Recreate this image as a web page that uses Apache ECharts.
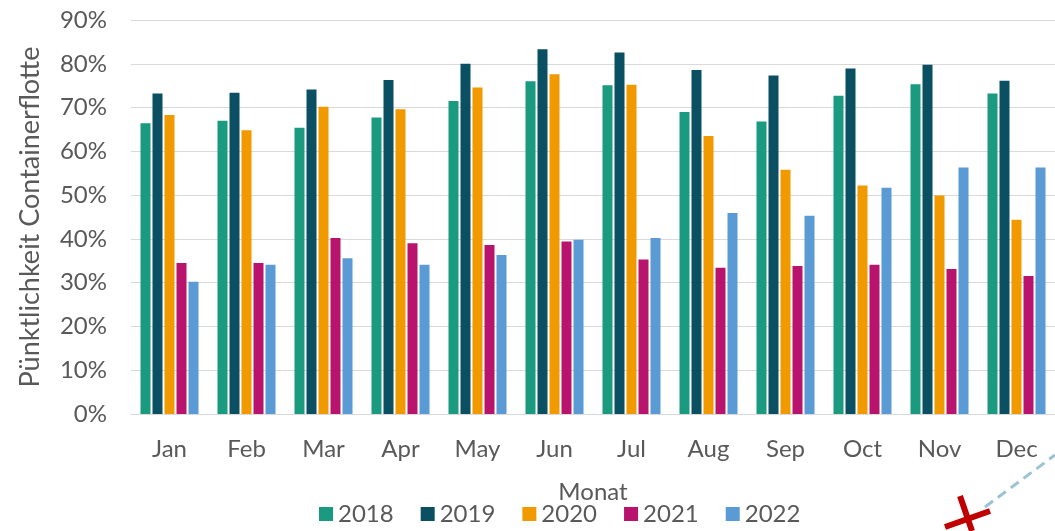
<!DOCTYPE html>
<html>
<head>
<meta charset="utf-8">
<script src="https://cdn.jsdelivr.net/npm/echarts@6/dist/echarts.min.js"></script>
<style>
    html, body { margin: 0; padding: 0; background: #fff; }
    #chart { width: 1055px; height: 531px; }
</style>
</head>
<body>
<div id="chart"></div>
<script>
const months = ["Jan", "Feb", "Mar", "Apr", "May", "Jun", "Jul", "Aug", "Sep", "Oct", "Nov", "Dec"];
const years = ["2018", "2019", "2020", "2021", "2022"];
const colors = ["#1a9a7e", "#0b4f63", "#f09a00", "#b8146e", "#5b9bd5"];

// Pünktlichkeit in %
const v2018 = [66.4, 67.0, 65.4, 67.7, 71.5, 76.0, 75.1, 69.0, 66.8, 72.7, 75.3, 73.2];
const v2019 = [73.2, 73.4, 74.1, 76.3, 80.0, 83.3, 82.6, 78.6, 77.3, 78.9, 79.8, 76.1];
const v2020 = [68.3, 64.8, 70.2, 69.6, 74.6, 77.6, 75.2, 63.5, 55.8, 52.2, 49.9, 44.4];
const v2021 = [34.5, 34.5, 40.2, 39.0, 38.6, 39.4, 35.3, 33.4, 33.8, 34.1, 33.1, 31.5];
const v2022 = [30.2, 34.1, 35.6, 34.1, 36.3, 39.8, 40.2, 45.9, 45.3, 51.7, 56.3, 56.3];
const values = [v2018, v2019, v2020, v2021, v2022];

const font = "Lato, 'Open Sans', sans-serif";
const chart = echarts.init(document.getElementById("chart"));

chart.setOption({
    animation: false,
    textStyle: { fontFamily: font },
    grid: { left: 131, right: 0, top: 20, bottom: 117 },
    legend: {
        data: years,
        left: 314,
        bottom: 0,
        itemWidth: 14,
        itemHeight: 14,
        itemGap: 27,
        icon: "rect",
        textStyle: { fontSize: 24, color: "#595959", fontFamily: font }
    },
    xAxis: {
        type: "category",
        data: months,
        name: "Monat",
        nameLocation: "middle",
        nameGap: 66,
        nameTextStyle: { fontSize: 24, color: "#595959" },
        axisLine: { lineStyle: { color: "#d9d9d9", width: 1 } },
        axisTick: { show: false },
        axisLabel: { fontSize: 24, color: "#595959", margin: 23 }
    },
    yAxis: {
        type: "value",
        min: 0,
        max: 90,
        interval: 10,
        name: "Pünktlichkeit Containerflotte",
        nameLocation: "middle",
        nameGap: 87,
        nameTextStyle: { fontSize: 27, color: "#595959" },
        axisLabel: { fontSize: 24, color: "#595959", margin: 24, formatter: "{value}%" },
        splitLine: { lineStyle: { color: "#d9d9d9", width: 1 } }
    },
    series: years.map((y, i) => ({
        name: y,
        type: "bar",
        data: values[i],
        barWidth: 10,
        barGap: "20%",
        itemStyle: { color: colors[i] }
    })),
    graphic: [
        {
            type: "line",
            shape: { x1: 985, y1: 507, x2: 1055, y2: 455 },
            style: { stroke: "#9cc3d5", lineWidth: 3, lineDash: [10, 6] }
        },
        {
            type: "line",
            shape: { x1: 945, y1: 527, x2: 990, y2: 511 },
            style: { stroke: "#c00000", lineWidth: 6 }
        },
        {
            type: "line",
            shape: { x1: 960, y1: 496, x2: 972, y2: 531 },
            style: { stroke: "#c00000", lineWidth: 6 }
        }
    ]
});
</script>
</body>
</html>
